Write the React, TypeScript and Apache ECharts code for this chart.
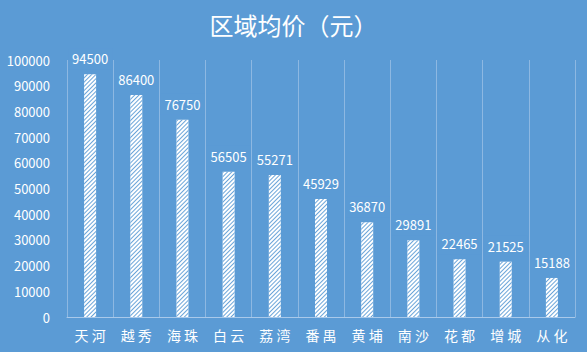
import React, { useEffect, useRef } from "react";
import * as echarts from "echarts";

const title = "区域均价（元）";
const categories = ["天河", "越秀", "海珠", "白云", "荔湾", "番禺", "黄埔", "南沙", "花都", "增城", "从化"];
const values = [94500, 86400, 76750, 56505, 55271, 45929, 36870, 29891, 22465, 21525, 15188];
const yMin = 0;
const yMax = 100000;
const yInterval = 10000;

const BG = "#5B9BD5";
const FONT = "'Noto Sans CJK SC', 'Noto Sans', sans-serif";

export default function App() {
  const ref = useRef<HTMLDivElement>(null);
  useEffect(() => {
    if (!ref.current) return;
    const chart = echarts.init(ref.current, undefined, { renderer: "svg" });
    chart.setOption({
      animation: false,
      backgroundColor: BG,
      title: {
        text: title,
        left: "center",
        top: 7,
        textStyle: { color: "#ffffff", fontSize: 24, fontWeight: "normal", fontFamily: FONT },
      },
      grid: { left: 67, right: 12, top: 60, bottom: 35, containLabel: false },
      xAxis: {
        type: "category",
        data: categories,
        axisLine: { show: true, lineStyle: { color: "#A9C9EA", width: 1 } },
        axisTick: { show: false },
        splitLine: { show: true, lineStyle: { color: "#8DB8E2", width: 1 } },
        axisLabel: {
          color: "#ffffff",
          fontSize: 14,
          fontFamily: FONT,
          margin: 11,
          formatter: (v: string) => v.split("").join(" "),
        },
      },
      yAxis: {
        type: "value",
        min: yMin,
        max: yMax,
        interval: yInterval,
        axisLine: { show: false },
        axisTick: { show: false },
        splitLine: { show: false },
        axisLabel: {
          color: "#ffffff",
          fontSize: 13,
          fontFamily: FONT,
          margin: 17,
          formatter: (v: number) => String(v),
        },
      },
      series: [
        {
          type: "bar",
          data: values,
          barWidth: 12,
          itemStyle: {
            color: "#ffffff",
            decal: {
              symbol: "rect",
              color: "rgba(91,155,213,0.9)",
              dashArrayX: [1, 0],
              dashArrayY: [1, 2],
              rotation: -Math.PI / 4,
              symbolSize: 1,
            },
          },
          label: {
            show: true,
            position: "top",
            distance: 5,
            color: "#ffffff",
            fontSize: 13,
            fontFamily: FONT,
            backgroundColor: "rgba(91,155,213,0.6)",
            width: 44,
            align: "center",
            padding: [4, 0, 4, 0],
          },
        },
      ],
    });
    return () => chart.dispose();
  }, []);
  return <div ref={ref} style={{ width: 587, height: 352, position: "absolute", left: 0, top: 0 }} />;
}
